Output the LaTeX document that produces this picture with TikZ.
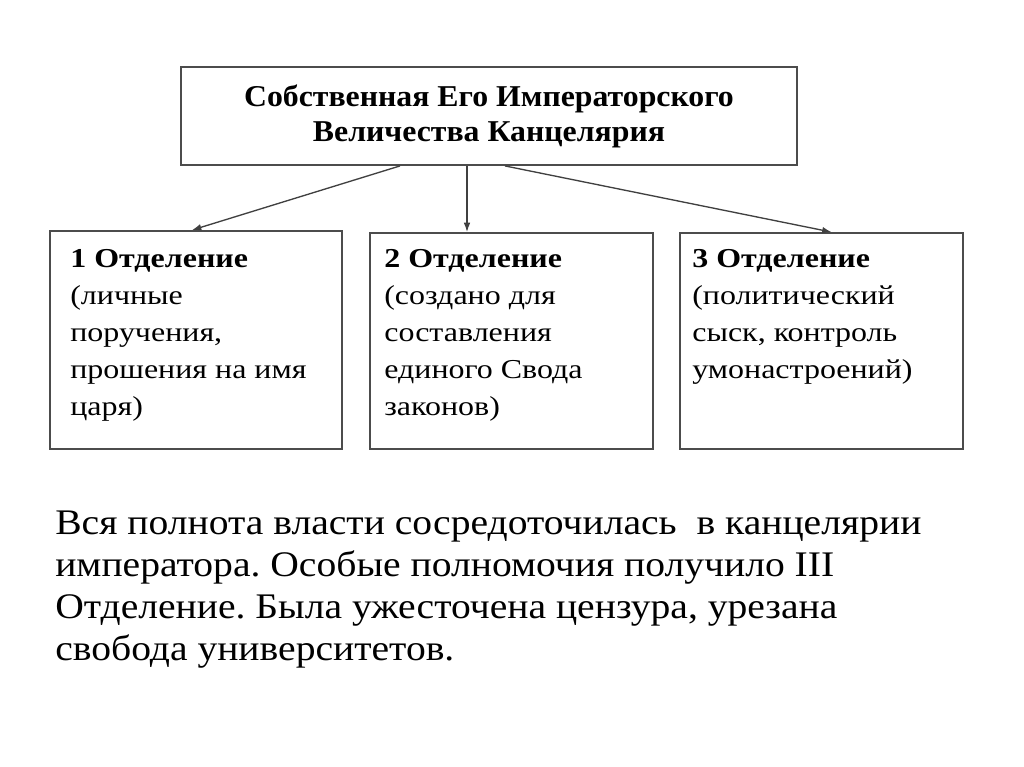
\documentclass[tikz,border=0pt]{standalone}
\usepackage{fontspec}
\setmainfont{Liberation Serif}
\newfontfamily\titlefont{Liberation Serif}[FakeStretch=1.05]
\newfontfamily\deptfont{Liberation Serif}[FakeStretch=1.17]
\newfontfamily\notefont{Liberation Serif}[FakeStretch=1.1]
\usetikzlibrary{arrows.meta}
\frenchspacing

\begin{document}
\begin{tikzpicture}[x=0.75pt, y=-0.75pt,
    box/.style={draw=black!70, line width=1.4pt, fill=white, inner sep=0pt},
    dept/.style={anchor=north west, align=left, inner sep=0pt,
        font=\deptfont\fontsize{20.5}{27.75}\selectfont},
    arr/.style={draw=black!75, line width=1pt, -{Latex[length=7pt, width=5pt]}}]

    \useasboundingbox (0, 0) rectangle (1024, 767);

    % the chancellery
    \node[box, minimum width=616*0.75pt, minimum height=98*0.75pt,
        align=center, font=\titlefont\bfseries\fontsize{22.7}{26.25}\selectfont]
        (kanc) at (489, 116) {Собственная Его Императорского\\Величества Канцелярия};

    % the three departments
    \node[box, minimum width=292*0.75pt, minimum height=218*0.75pt] (d1) at (196, 340) {};
    \node[box, minimum width=283*0.75pt, minimum height=216*0.75pt] (d2) at (511.5, 341) {};
    \node[box, minimum width=283*0.75pt, minimum height=216*0.75pt] (d3) at (821.5, 341) {};

    \node[dept] (t1) at ([shift={(21, 19)}]d1.north west)
        {\textbf{1 Отделение}\\(личные\\поручения,\\прошения на имя\\царя)};
    \node[dept] (t2) at ([shift={(15, 17)}]d2.north west)
        {\textbf{2 Отделение}\\(создано для\\составления\\единого Свода\\законов)};
    \node[dept] (t3) at ([shift={(13, 17)}]d3.north west)
        {\textbf{3 Отделение}\\(политический\\сыск, контроль\\умонастроений)};

    \draw[arr] ([shift={(-89, 0)}]kanc.south) -- ([shift={(-4, 0)}]d1.north);
    \draw[arr] ([shift={(-22, 0)}]kanc.south) -- ([shift={(-44.5, 0)}]d2.north);
    \draw[arr] ([shift={(16, 0)}]kanc.south) -- ([shift={(10, 0)}]d3.north);

    % closing remark
    \node[anchor=north west, align=left, inner sep=0pt,
        font=\notefont\fontsize{27}{31.5}\selectfont] (note) at (55, 511)
        {Вся полнота власти сосредоточилась\ \ в канцелярии\\
         императора. Особые полномочия получило III\\
         Отделение. Была ужесточена цензура, урезана\\
         свобода университетов.};
\end{tikzpicture}
\end{document}
